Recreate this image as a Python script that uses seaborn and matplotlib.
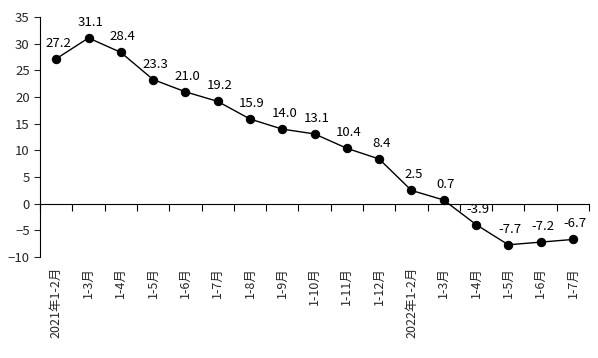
import numpy as np
import pandas as pd
import matplotlib
matplotlib.use("Agg")
import matplotlib.pyplot as plt
import seaborn as sns

#%% Data
periods = ["2021年1-2月", "1-3月", "1-4月", "1-5月", "1-6月", "1-7月", "1-8月", "1-9月",
           "1-10月", "1-11月", "1-12月", "2022年1-2月", "1-3月", "1-4月", "1-5月", "1-6月", "1-7月"]
growth = [27.2, 31.1, 28.4, 23.3, 21.0, 19.2, 15.9, 14.0, 13.1, 10.4, 8.4, 2.5, 0.7, -3.9, -7.7, -7.2, -6.7]
y_ticks = [-10, -5, 0, 5, 10, 15, 20, 25, 30, 35]

df = pd.DataFrame({"pos": np.arange(len(periods)), "growth": growth})

#%% Style
sns.set_style("ticks")
plt.rcParams["font.family"] = ["Noto Sans CJK SC", "DejaVu Sans"]
plt.rcParams["font.size"] = 9

fig = plt.figure(figsize=(5.98, 3.58), dpi=100)
ax = fig.add_axes([0.067, 0.282, 0.918, 0.67])

sns.lineplot(data=df, x="pos", y="growth", ax=ax, color="black", linewidth=1,
             marker="o", markersize=6, markeredgecolor="black")

for x, v in zip(df["pos"], growth):
    ax.annotate(f"{v:.1f}", (x, v), xytext=(1.5, 6.5), textcoords="offset points",
                ha="center", va="bottom", fontsize=9.5, color="black")

ax.set_xlim(-0.5, len(periods) - 0.5)
ax.set_ylim(-10, 35)
ax.set_yticks(y_ticks)
ax.set_xticks(df["pos"])
ax.set_xticklabels(periods, rotation=90, va="top", ha="center")
ax.tick_params(axis="x", length=0, pad=7, labelsize=9)
ax.tick_params(axis="y", length=4, width=0.8, direction="out", labelsize=9.5)
ax.set_xlabel("")
ax.set_ylabel("")

for s in ["top", "right", "bottom"]:
    ax.spines[s].set_visible(False)
ax.spines["left"].set_color("black")
ax.spines["left"].set_linewidth(0.8)

# zero axis with category boundary ticks
zero_frac = (0 - (-10)) / (35 - (-10))
sec = ax.secondary_xaxis(zero_frac)
sec.set_xticks(np.arange(len(periods) + 1) - 0.5)
sec.set_xticklabels([])
sec.tick_params(axis="x", direction="out", length=5, width=0.8, color="black")
sec.spines["bottom"].set_color("black")
sec.spines["bottom"].set_linewidth(0.8)

fig.savefig("out.png", dpi=100)
